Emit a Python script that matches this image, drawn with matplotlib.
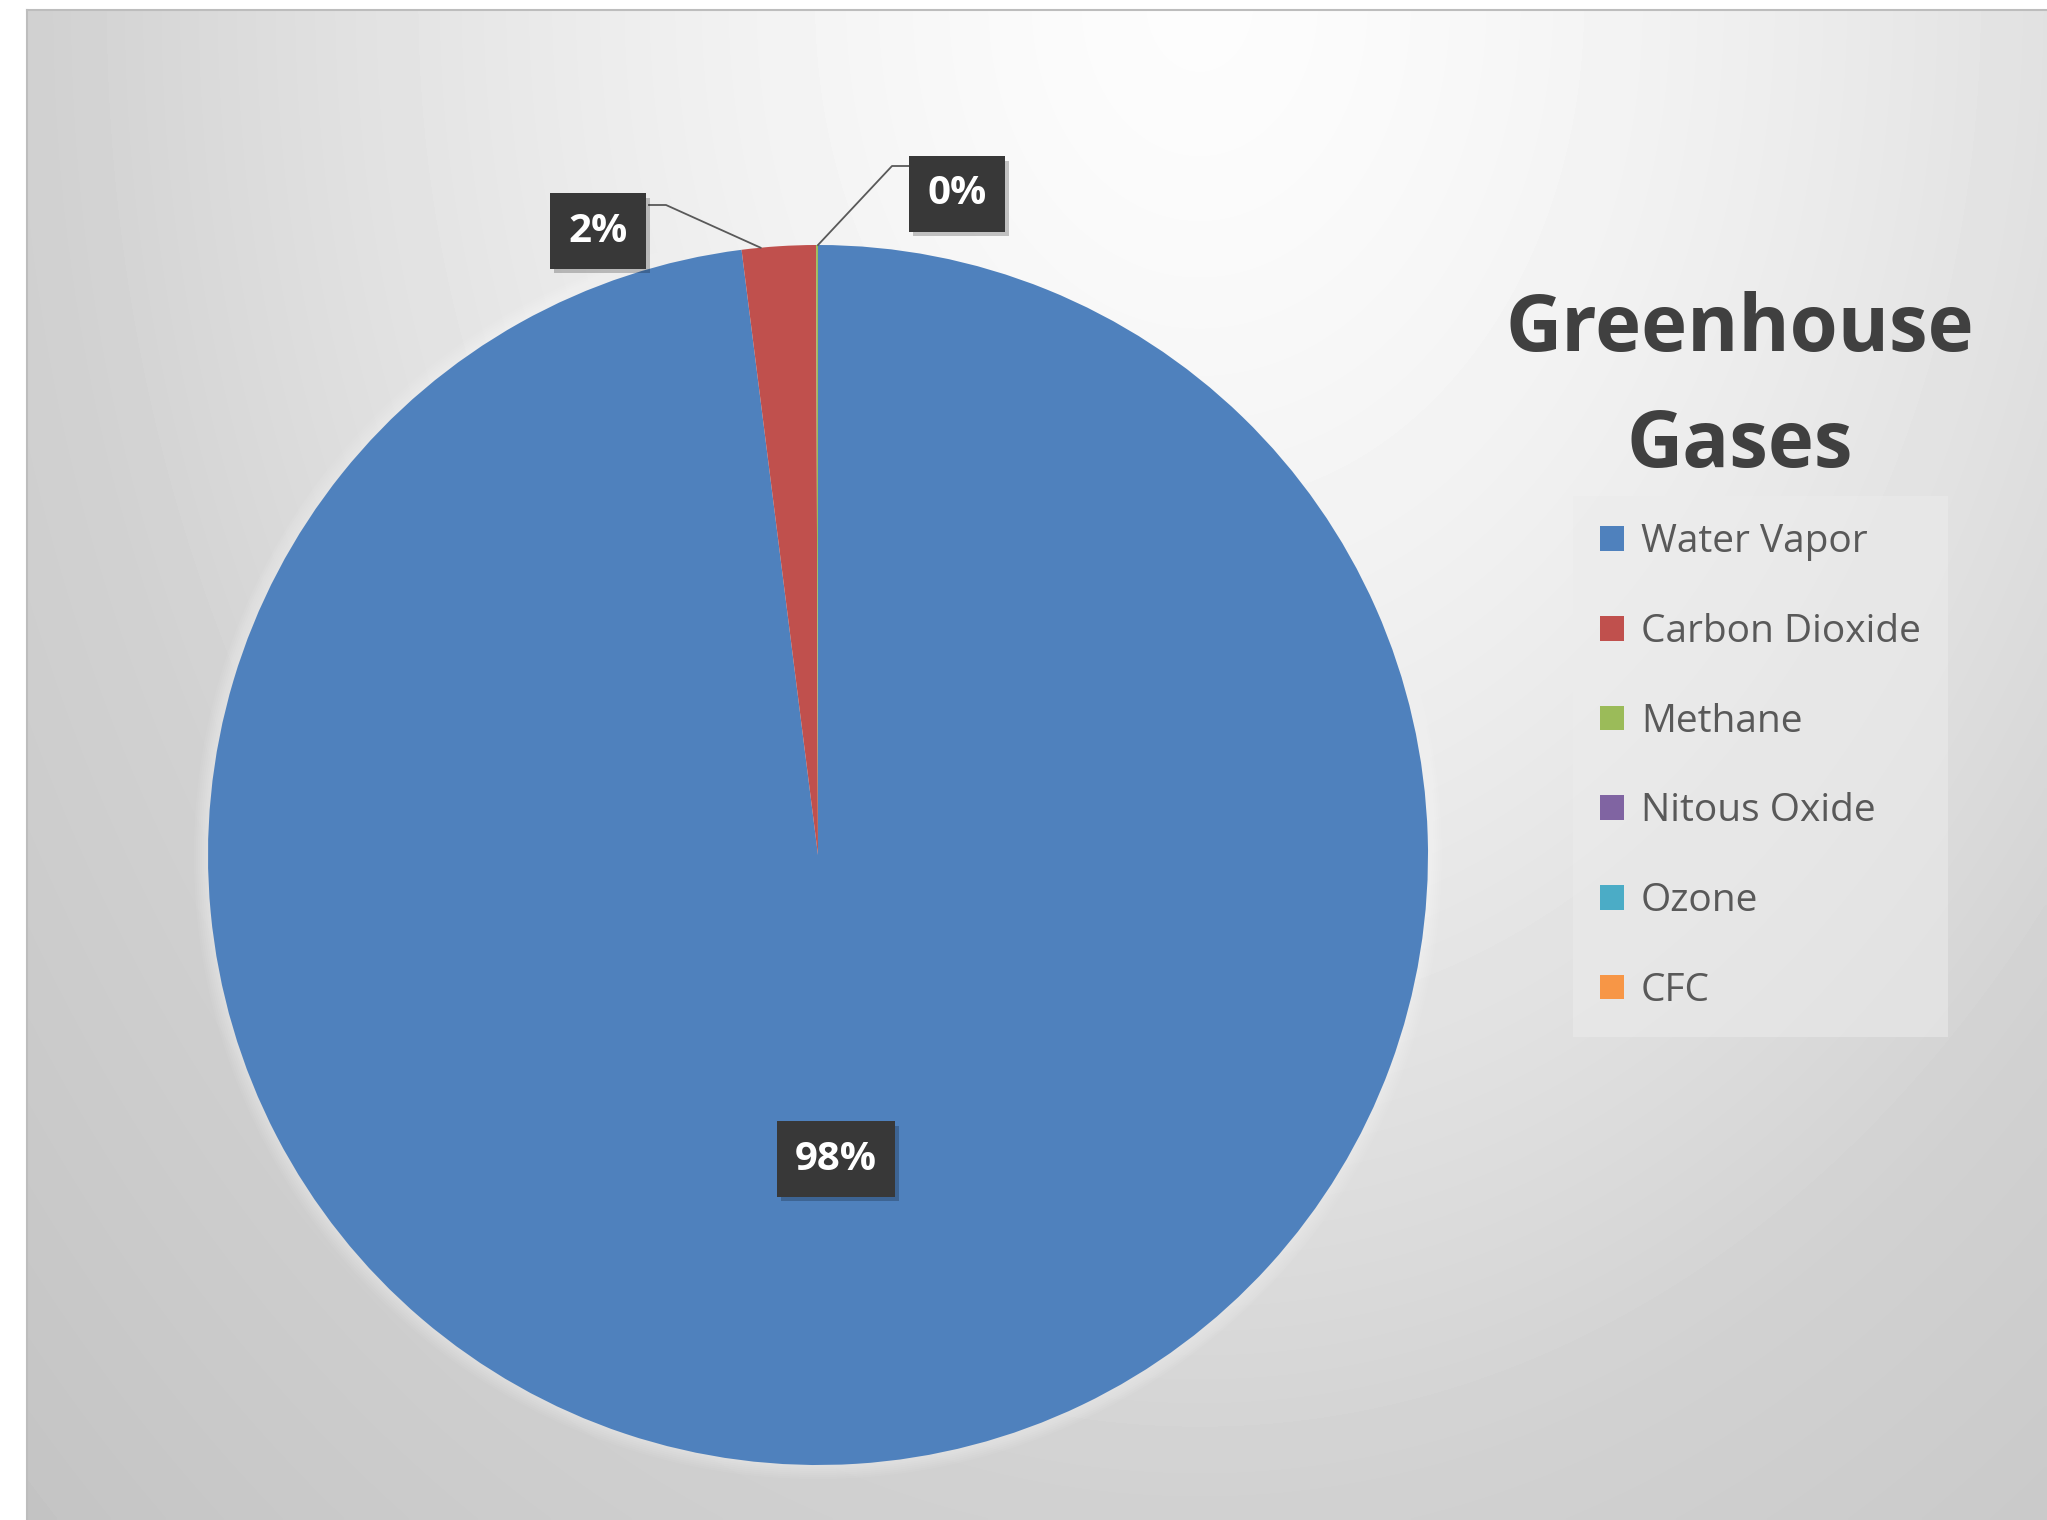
import matplotlib
matplotlib.use("Agg")
import matplotlib.pyplot as plt
import matplotlib.patheffects as pe
from matplotlib.patches import Circle
import numpy as np

gases = ["Water Vapor", "Carbon Dioxide", "Methane", "Nitous Oxide", "Ozone", "CFC"]
shares = [98.0, 1.95, 0.05, 0.0, 0.0, 0.0]
colors = ["#4f81bd", "#c0504d", "#9bbb59", "#8064a2", "#4bacc6", "#f79646"]
title_lines = ["Greenhouse", "Gases"]

W, H = 2047, 1520
FONT = ["Open Sans", "DejaVu Sans"]

fig = plt.figure(figsize=(W / 100, H / 100), dpi=100)
fig.patch.set_facecolor("white")

# chart area: soft elliptical gray gradient, light near the top
bg = fig.add_axes([27 / W, 0, 1 - 27 / W, 1 - 10 / H])
xs = np.linspace(27, W, 500)
ys = np.linspace(10, H, 400)
gx, gy = np.meshgrid(xs, ys)
d = np.hypot((gx - 1200) / 1150, gy / 1500)
drop = np.where(d < 1, 0.17 * d ** 1.5, 0.17 + 0.12 * (d - 1))
shade = 0.99 - drop
bg.imshow(shade, cmap="gray", vmin=0, vmax=1, aspect="auto",
          extent=(0, 1, 0, 1), origin="upper", interpolation="bilinear")
bg.set_xlim(0, 1)
bg.set_ylim(0, 1)
bg.set_xticks([])
bg.set_yticks([])
for side in ("right", "bottom"):
    bg.spines[side].set_visible(False)
for side in ("top", "left"):
    bg.spines[side].set_color("#bdbdbd")
    bg.spines[side].set_linewidth(1.5)

ax = fig.add_axes([0, 0, 1, 1])
ax.patch.set_alpha(0)
cx, cy, rad = 818, H - 855, 610

# faint glow round the pie
for k in range(1, 8):
    ax.add_patch(Circle((cx, cy), rad + 2 * k, facecolor="white", edgecolor="none",
                        alpha=0.06, zorder=0))

wedges, _ = ax.pie(shares, colors=colors, startangle=90, counterclock=False,
                   center=(cx, cy), radius=rad,
                   explode=[0, 0.018, 0, 0, 0, 0],
                   wedgeprops=dict(linewidth=0))
ax.set_xlim(0, W)
ax.set_ylim(0, H)
ax.set_aspect("equal")
ax.axis("off")

total = sum(shares)
pcts = [round(v / total * 100) for v in shares]

# data labels (dark boxes) and leader lines
label_pos = {0: (836, H - 1159), 1: (598, H - 231), 2: (957, H - 194)}
leader_start = {1: [(649, H - 205), (666, H - 205)], 2: [(910, H - 166), (892, H - 166)]}
for i, (lx, ly) in label_pos.items():
    w = wedges[i]
    if i in leader_start:
        th = np.deg2rad(w.theta2 - 1.8) if i == 1 else np.deg2rad(90)
        px = w.center[0] + w.r * np.cos(th)
        py = w.center[1] + w.r * np.sin(th)
        pts = leader_start[i] + [(px, py)]
        ax.plot([p[0] for p in pts], [p[1] for p in pts], color="#595959", lw=1.3, zorder=3)
    t = ax.text(lx, ly, f"{pcts[i]}%", ha="center", va="center", color="white",
                fontsize=29, fontweight="bold", family=FONT, zorder=5,
                bbox=dict(boxstyle="square,pad=0.45", facecolor="#383838", edgecolor="none"))
    t.get_bbox_patch().set_path_effects([
        pe.SimplePatchShadow(offset=(3, -3), shadow_rgbFace="black", alpha=0.22),
        pe.Normal()])

# title
ax.text(1740, H - 330, title_lines[0], ha="center", va="center", fontsize=56,
        fontweight="bold", color="#404040", family=FONT)
ax.text(1740, H - 446, title_lines[1], ha="center", va="center", fontsize=56,
        fontweight="bold", color="#404040", family=FONT)

leg = ax.legend(wedges, gases, loc="upper left", bbox_to_anchor=(1573 / W, 1 - 496 / H),
                bbox_transform=fig.transFigure, frameon=True, fancybox=False,
                facecolor="#ececec", edgecolor="none", framealpha=0.55,
                prop=dict(family=FONT, size=28), labelcolor="#595959",
                handlelength=0.6, handleheight=0.6, handletextpad=0.45,
                labelspacing=1.33, borderpad=0.7, borderaxespad=0)

fig.savefig("out.png", dpi=100)
